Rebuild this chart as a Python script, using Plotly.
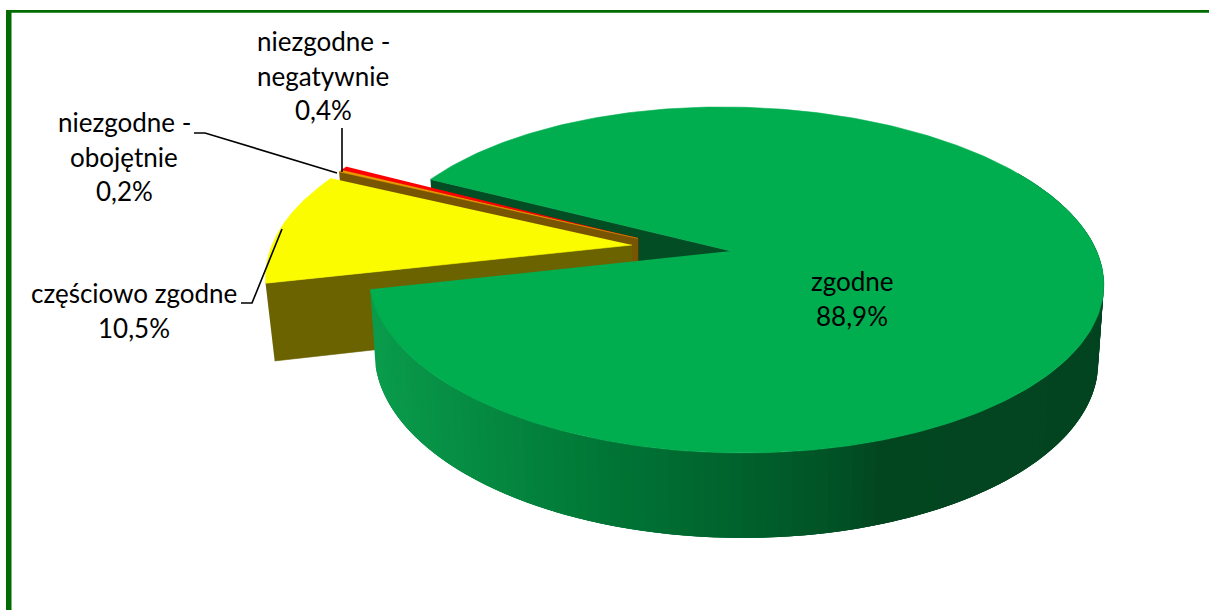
import math
import plotly.graph_objects as go

# ---- data ----
categories = ["zgodne", "częściowo zgodne", "niezgodne - obojętnie", "niezgodne - negatywnie"]
values = [88.9, 10.5, 0.2, 0.4]
label_lines = [["zgodne"], ["częściowo zgodne"], ["niezgodne -", "obojętnie"], ["niezgodne -", "negatywnie"]]

# ---- 3D view styling ----
FIRST_ANGLE = 297.3
TOP_COLORS = ["#00ae50", "#fcfc00", "#e89a00", "#ff0000"]
WALL_COLORS = ["#034d25", "#6a6300", "#785500", "#8a0000"]
WALL_STOPS = [(0.0, (10, 156, 76)), (0.32, (0, 118, 54)), (0.62, (0, 84, 38)), (0.70, (2, 70, 32)), (1.0, (3, 68, 32))]
C = 0.1676
TOP_A, TOP_B = -126.1, 251.0
BOT_A, BOT_B = -120.8, 327.0
# explode offsets per slice: apex x, y shift, half width, shear, side perspective, bottom-plane scale
VIEW = [
    dict(x0=731, dy=0, d=362, e=-10, f=-0.01, s=0.985),
    dict(x0=632, dy=-6, d=360, e=8, f=0.0, s=0.975),
    dict(x0=638, dy=-12.6, d=360, e=13.5, f=0.0, s=0.98),
    dict(x0=638, dy=-12.6, d=360, e=13.5, f=0.0, s=0.98),
]


def project(theta, g, bottom=False):
    t = math.radians(theta)
    u, v = math.sin(t), math.cos(t)
    den = 1 + C * v
    a, b = (BOT_A, BOT_B) if bottom else (TOP_A, TOP_B)
    s = g["s"] if bottom else 1.0
    return g["x0"] + s * (g["d"] * u + g["e"] * v) / (den + g["f"] * u), (a * v + b) / den + g["dy"]


def centre(g, bottom=False):
    return g["x0"], (BOT_B if bottom else TOP_B) + g["dy"]


def arc(a0, a1, g, bottom=False, step=1.0):
    n = max(2, int(abs(a1 - a0) / step) + 1)
    return [project(a0 + (a1 - a0) * i / (n - 1), g, bottom) for i in range(n)]


def poly(fig, pts, color, lw=0.6):
    fig.add_trace(go.Scatter(x=[p[0] for p in pts], y=[p[1] for p in pts], mode="lines",
                             fill="toself", fillcolor=color, line=dict(color=color, width=lw),
                             hoverinfo="skip", showlegend=False))


def gradient(f):
    for (p0, c0), (p1, c1) in zip(WALL_STOPS, WALL_STOPS[1:]):
        if f <= p1:
            k = (f - p0) / (p1 - p0)
            return "rgb(%d,%d,%d)" % tuple(round(c0[i] + (c1[i] - c0[i]) * k) for i in range(3))
    return "rgb(%d,%d,%d)" % WALL_STOPS[-1][1]


total = sum(values)
spans = [v / total * 360 for v in values]
starts = []
acc = FIRST_ANGLE
for sp in spans:
    starts.append(acc)
    acc += sp
ends = [s + sp for s, sp in zip(starts, spans)]

fig = go.Figure()


def cut_wall(i, angle):
    g = VIEW[i]
    poly(fig, [project(angle, g), centre(g), centre(g, True), project(angle, g, True)], WALL_COLORS[i])


# inner wall of the large slice, seen through the gap
cut_wall(0, starts[0])
# red, orange, yellow pieces (behind the large slice)
for i in (3, 2, 1):
    cut_wall(i, starts[i])
    poly(fig, [centre(VIEW[i])] + arc(starts[i], ends[i], VIEW[i], step=0.2), TOP_COLORS[i])

# outer wall of the large slice: overlapping shaded strips, painted left to right
g0 = VIEW[0]
wall_end = ends[0]
wall_start = 420.0
N = 120
xs_left, xs_right = project(wall_end, g0)[0], 1103.0
for k in range(N):
    a0 = wall_end - (wall_end - wall_start) * k / N
    a1 = wall_end - (wall_end - wall_start) * min(N, k + 3) / N
    top = arc(a0, a1, g0, step=0.5)
    bot = arc(a1, a0, g0, bottom=True, step=0.5)
    mid = wall_end - (wall_end - wall_start) * (k + 0.5) / N
    f = (project(mid, g0)[0] - xs_left) / (xs_right - xs_left)
    poly(fig, top + bot, gradient(f), lw=0)

# top of the large slice
poly(fig, [centre(g0)] + arc(starts[0], ends[0], g0), TOP_COLORS[0])

# leader lines
leader_x = [[194, 205, 337], [241, 252, 282], [342, 342]]
leader_y = [[133, 133, 173], [303, 303, 229], [128, 172]]
for lx, ly in zip(leader_x, leader_y):
    fig.add_trace(go.Scatter(x=lx, y=ly, mode="lines", line=dict(color="#000000", width=1.6),
                             hoverinfo="skip", showlegend=False))

# labels
label_pos = [(852, 281), (134, 293), (124, 122), (323, 41)]
for i, (cx, cy) in enumerate(label_pos):
    pct = f"{values[i]:.1f}%".replace(".", ",")
    for j, line in enumerate(label_lines[i] + [pct]):
        fig.add_annotation(x=cx, y=cy + j * 34.5, text=line, showarrow=False, xanchor="center", yanchor="middle",
                           font=dict(family="Lato", size=26, color="#000000"))

fig.add_shape(type="rect", x0=6, x1=11.5, y0=10, y1=610, fillcolor="#006b00", line_width=0, layer="above")
fig.add_shape(type="rect", x0=6, x1=1209, y0=10, y1=12.7, fillcolor="#006b00", line_width=0, layer="above")

fig.update_layout(width=1209, height=610, margin=dict(l=0, r=0, t=0, b=0),
                  paper_bgcolor="#ffffff", plot_bgcolor="#ffffff", showlegend=False,
                  xaxis=dict(range=[0, 1209], visible=False, fixedrange=True),
                  yaxis=dict(range=[610, 0], visible=False, fixedrange=True))
fig.write_html("out.html", config={"displayModeBar": False},
               post_script="document.body.style.margin='0';document.body.style.overflow='hidden';")
